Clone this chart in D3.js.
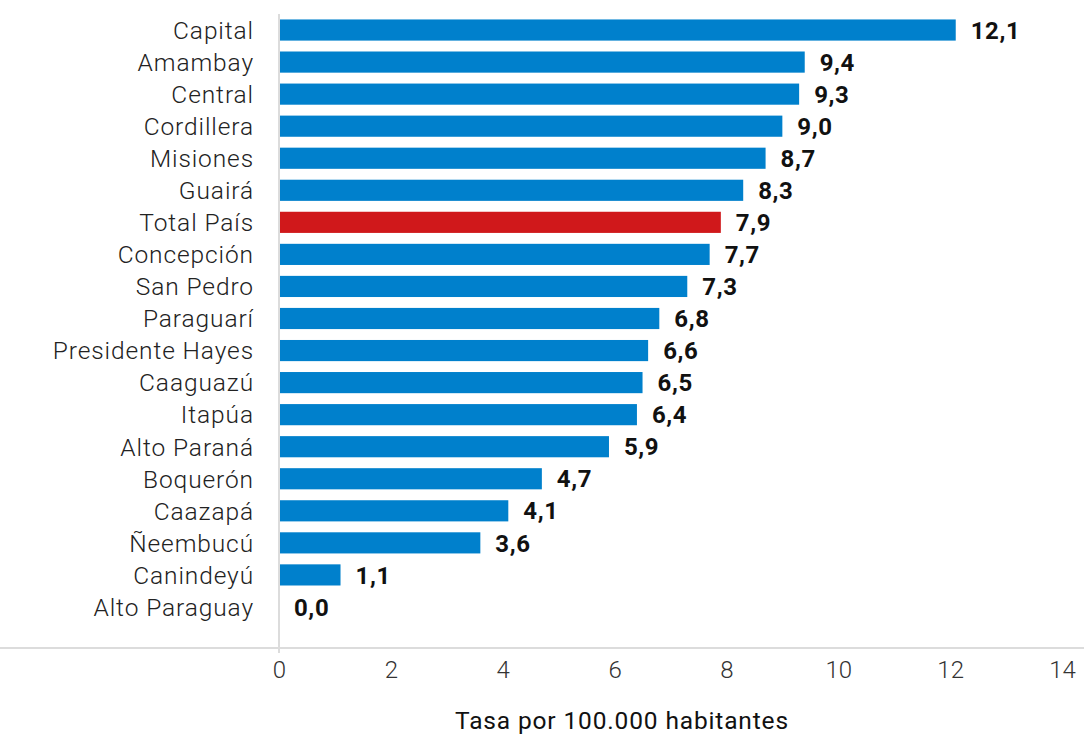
<!DOCTYPE html>
<html>
<head>
<meta charset="utf-8">
<script src="https://cdn.jsdelivr.net/npm/d3@7"></script>
<style>
  html, body { margin: 0; padding: 0; background: #fff; }
  svg text { font-family: Roboto, "Noto Sans", sans-serif; }
</style>
</head>
<body>
<div id="viz"></div>
<script>
const regions = ['Capital', 'Amambay', 'Central', 'Cordillera', 'Misiones', 'Guairá', 'Total País',
  'Concepción', 'San Pedro', 'Paraguarí', 'Presidente Hayes', 'Caaguazú', 'Itapúa', 'Alto Paraná',
  'Boquerón', 'Caazapá', 'Ñeembucú', 'Canindeyú', 'Alto Paraguay'];
const rates = [12.1, 9.4, 9.3, 9.0, 8.7, 8.3, 7.9, 7.7, 7.3, 6.8, 6.6, 6.5, 6.4, 5.9, 4.7, 4.1, 3.6, 1.1, 0.0];
const xTickValues = [0, 2, 4, 6, 8, 10, 12, 14];
const axisTitle = 'Tasa por 100.000 habitantes';
const highlight = 'Total País';

const width = 1084;
const height = 736;
const x0 = 279;
const x1 = 1062;
const axisY = 648;

const xScale = d3.scaleLinear().domain([0, 14]).range([x0, x1]);
const yScale = d3.scaleBand()
                 .domain(regions)
                 .range([14, 623])
                 .paddingInner(0.34)
                 .paddingOuter(0.17);

const svg = d3.select('#viz')
              .append('svg')
              .attr('width', width)
              .attr('height', height);

// horizontal baseline
svg.append('line')
   .attr('x1', 0).attr('x2', width)
   .attr('y1', axisY).attr('y2', axisY)
   .attr('stroke', '#dcdcdc').attr('stroke-width', 2);

// vertical zero line
svg.append('line')
   .attr('x1', xScale(0)).attr('x2', xScale(0))
   .attr('y1', 14).attr('y2', axisY + 5)
   .attr('stroke', '#dcdcdc').attr('stroke-width', 2);

const rows = regions.map((r, i) => ({ name: r, value: rates[i] }));

svg.append('g')
   .selectAll('rect').data(rows)
   .enter().append('rect')
     .attr('x', xScale(0) + 1)
     .attr('y', (d) => yScale(d.name))
     .attr('width', (d) => Math.max(0, xScale(d.value) - xScale(0) - 1))
     .attr('height', yScale.bandwidth())
     .attr('fill', (d) => d.name === highlight ? '#d0181b' : '#0080cc');

// category labels
svg.append('g')
   .selectAll('text').data(rows)
   .enter().append('text')
     .attr('x', 254)
     .attr('y', (d) => yScale(d.name) + yScale.bandwidth() / 2)
     .attr('dy', '0.36em')
     .attr('text-anchor', 'end')
     .attr('font-size', 24.5)
     .attr('font-weight', 300)
     .attr('letter-spacing', 0.9)
     .attr('fill', '#222')
     .text((d) => d.name);

// value labels
const fmt = (v) => v.toFixed(1).replace('.', ',');
svg.append('g')
   .selectAll('text').data(rows)
   .enter().append('text')
     .attr('x', (d) => xScale(d.value) + 15)
     .attr('y', (d) => yScale(d.name) + yScale.bandwidth() / 2)
     .attr('dy', '0.36em')
     .attr('font-size', 24)
     .attr('font-weight', 700)
     .attr('letter-spacing', 0.6)
     .attr('fill', '#111')
     .text((d) => fmt(d.value));

// x axis ticks
const xAxis = d3.axisBottom(xScale).tickValues(xTickValues).tickSize(0).tickPadding(13);
const gx = svg.append('g')
              .attr('transform', `translate(0, ${axisY})`)
              .call(xAxis);
gx.select('.domain').remove();
gx.selectAll('text')
  .attr('font-size', 24)
  .attr('font-weight', 300)
  .attr('fill', '#333')
  .style('font-family', 'Roboto, sans-serif');

svg.append('text')
   .attr('x', 622)
   .attr('y', 729)
   .attr('text-anchor', 'middle')
   .attr('font-size', 24.5)
   .attr('letter-spacing', 0.85)
   .attr('fill', '#111')
   .text(axisTitle);
</script>
</body>
</html>
